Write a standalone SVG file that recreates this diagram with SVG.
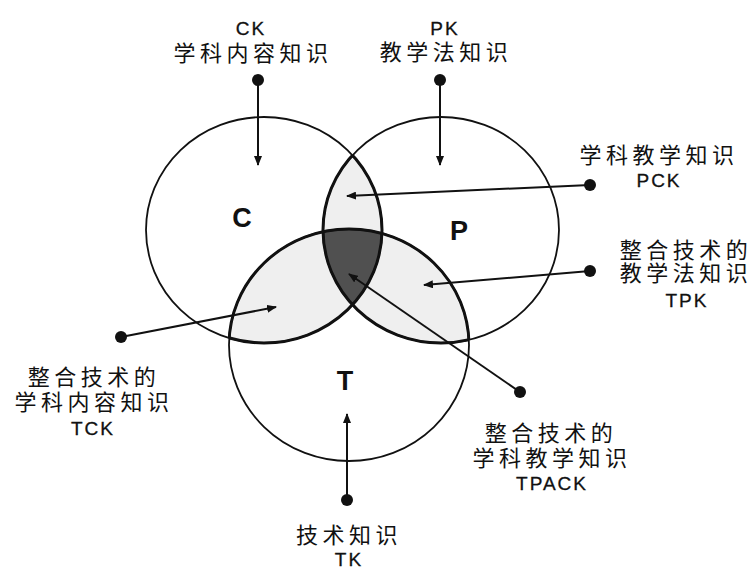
<svg xmlns="http://www.w3.org/2000/svg" width="755" height="568" viewBox="0 0 755 568">
<style>
.cjk{font-family:"Noto Sans CJK SC","Noto Sans",sans-serif;font-size:22px;letter-spacing:4.5px;fill:#111;text-anchor:middle}
.lat{font-family:"Liberation Sans",Arial,sans-serif;font-size:19px;letter-spacing:2px;fill:#111;stroke:#111;stroke-width:0.3;text-anchor:middle}
.big{font-family:"Liberation Sans",Arial,sans-serif;font-size:27px;font-weight:bold;fill:#111;text-anchor:middle}
.ring{fill:none;stroke:#111;stroke-width:1.8}
.inner{fill:none;stroke:#111;stroke-width:3}
.conn{stroke:#111;stroke-width:2;fill:none}
.dot{fill:#111}
</style>
<defs>
<ellipse id="eC" cx="264" cy="230" rx="118" ry="113"/>
<ellipse id="eP" cx="441" cy="230" rx="118" ry="113"/>
<ellipse id="eT" cx="349" cy="345" rx="120" ry="116"/>
<clipPath id="cC"><use href="#eC"/></clipPath>
<clipPath id="cP"><use href="#eP"/></clipPath>
<clipPath id="cPT"><use href="#eP"/><use href="#eT"/></clipPath>
<clipPath id="cCT"><use href="#eC"/><use href="#eT"/></clipPath>
<clipPath id="cCP"><use href="#eC"/><use href="#eP"/></clipPath>
<marker id="ah" viewBox="0 0 10 8" markerWidth="10" markerHeight="8" refX="9" refY="4" orient="auto" markerUnits="userSpaceOnUse">
<path d="M0,0 L10,4 L0,8 z" fill="#111"/>
</marker>
</defs>
<g id="venn">
<g clip-path="url(#cC)"><use href="#eP" fill="#efefef"/><use href="#eT" fill="#efefef"/></g>
<g clip-path="url(#cP)"><use href="#eT" fill="#efefef"/></g>
<g clip-path="url(#cC)"><g clip-path="url(#cP)"><use href="#eT" fill="#505050"/></g></g>
<use href="#eC" class="ring"/>
<use href="#eP" class="ring"/>
<use href="#eT" class="ring"/>
<g clip-path="url(#cPT)"><use href="#eC" class="inner"/></g>
<g clip-path="url(#cCT)"><use href="#eP" class="inner"/></g>
<g clip-path="url(#cCP)"><use href="#eT" class="inner"/></g>
</g>
<g id="circle-labels">
<text class="big" x="242" y="227">C</text>
<text class="big" x="459" y="240">P</text>
<text class="big" x="345" y="390">T</text>
</g>
<g id="connectors">
<line class="conn" x1="258" y1="80" x2="258" y2="165" marker-end="url(#ah)"/>
<line class="conn" x1="440" y1="80" x2="440" y2="165" marker-end="url(#ah)"/>
<line class="conn" x1="590" y1="185" x2="347" y2="196" marker-end="url(#ah)"/>
<line class="conn" x1="590" y1="271" x2="424" y2="285" marker-end="url(#ah)"/>
<line class="conn" x1="121" y1="337" x2="276" y2="307" marker-end="url(#ah)"/>
<line class="conn" x1="520" y1="392" x2="349" y2="274" marker-end="url(#ah)"/>
<line class="conn" x1="347" y1="500" x2="347" y2="414" marker-end="url(#ah)"/>
<circle class="dot" cx="258" cy="80" r="6"/>
<circle class="dot" cx="440" cy="80" r="6"/>
<circle class="dot" cx="590" cy="185" r="6"/>
<circle class="dot" cx="590" cy="271" r="6"/>
<circle class="dot" cx="121" cy="337" r="6"/>
<circle class="dot" cx="520" cy="392" r="6"/>
<circle class="dot" cx="347" cy="500" r="6"/>
</g>
<g id="CK">
<text class="lat" x="251" y="35">CK</text>
<text class="cjk" x="253" y="61">学科内容知识</text>
</g>
<g id="PK">
<text class="lat" x="445" y="35">PK</text>
<text class="cjk" x="446" y="60">教学法知识</text>
</g>
<g id="PCK">
<text class="cjk" x="659" y="163">学科教学知识</text>
<text class="lat" x="659" y="187">PCK</text>
</g>
<g id="TPK">
<text class="cjk" x="686" y="258">整合技术的</text>
<text class="cjk" x="686" y="281">教学法知识</text>
<text class="lat" x="687" y="307">TPK</text>
</g>
<g id="TCK">
<text class="cjk" x="94" y="385">整合技术的</text>
<text class="cjk" x="94" y="410">学科内容知识</text>
<text class="lat" x="93" y="435">TCK</text>
</g>
<g id="TPACK">
<text class="cjk" x="551" y="441">整合技术的</text>
<text class="cjk" x="552" y="466">学科教学知识</text>
<text class="lat" x="552" y="490">TPACK</text>
</g>
<g id="TK">
<text class="cjk" x="349" y="543">技术知识</text>
<text class="lat" x="349" y="566">TK</text>
</g>
</svg>
